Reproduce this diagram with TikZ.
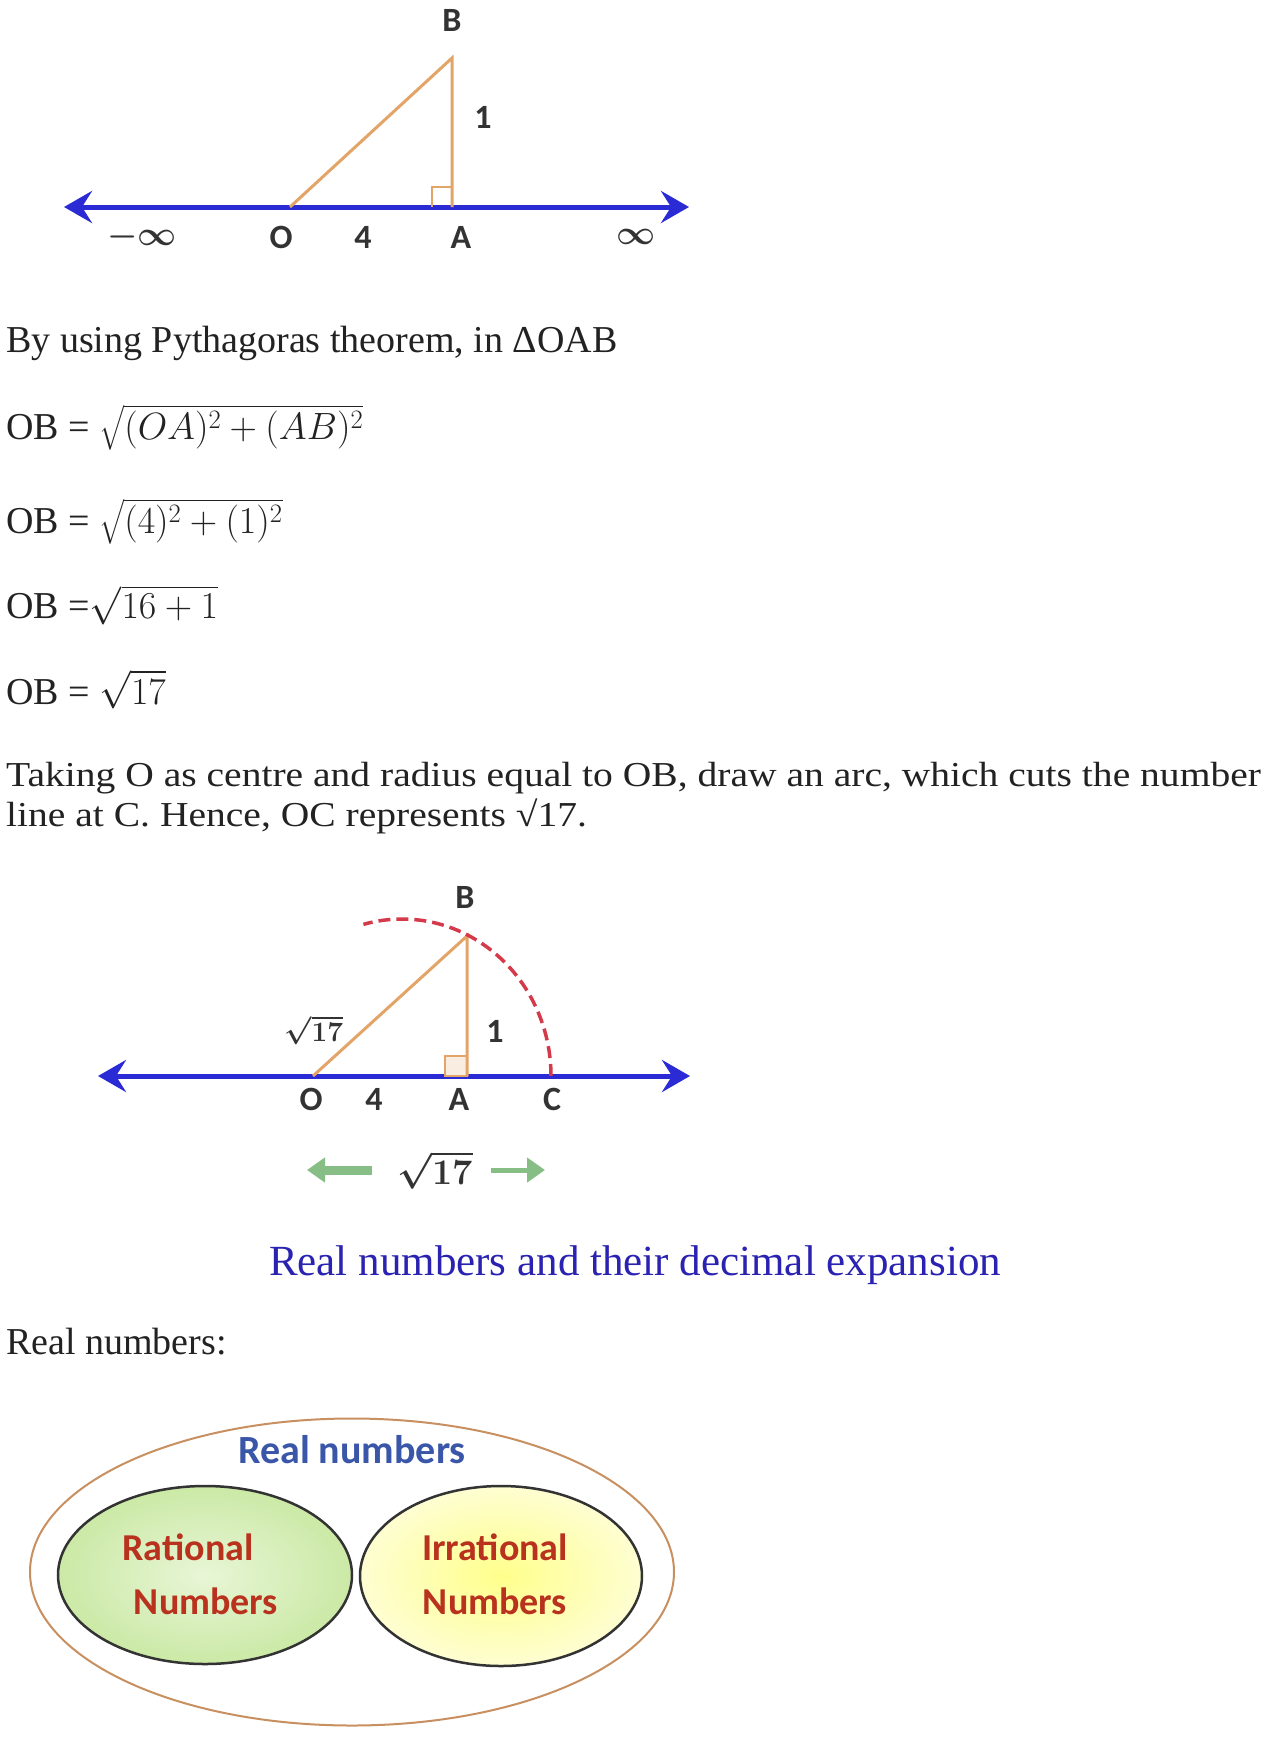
\RequirePackage{fix-cm}
\documentclass[tikz,border=0pt]{standalone}
\usepackage{amsmath}
\usepackage{fontspec}
\usepackage{xcolor}
\setmainfont{Liberation Serif}
\newfontfamily\labelfont{Carlito}
\usetikzlibrary{positioning,arrows.meta,shapes.geometric}

\definecolor{lineblue}{HTML}{2B2BD6}
\definecolor{triorange}{HTML}{E3A468}
\definecolor{arcred}{HTML}{D43A4A}
\definecolor{arrowgreen}{HTML}{86BE86}
\definecolor{headblue}{HTML}{2A22B0}
\definecolor{vennblue}{HTML}{3A56A8}
\definecolor{vennred}{HTML}{B8321E}
\definecolor{outerline}{HTML}{C89060}
\definecolor{inktext}{HTML}{222222}
\definecolor{ratgreen}{HTML}{CBE9A6}
\definecolor{ratlight}{HTML}{E8F6D6}
\definecolor{irryellow}{HTML}{FFFF8C}
\definecolor{irrlight}{HTML}{FEFED2}

\begin{document}
\begin{tikzpicture}[x=1pt,y=-1pt,
    num line/.style={lineblue,line width=5pt,{Stealth[length=28pt,width=32pt,inset=10pt]}-{Stealth[length=28pt,width=32pt,inset=10pt]}},
    tri side/.style={triorange,line width=3pt},
    pt label/.style={font=\labelfont\bfseries\fontsize{34}{40}\selectfont\boldmath,text=black!80},
    body text/.style={anchor=base west,inner sep=0pt,text=inktext,font=\fontsize{38}{46}\selectfont},
    green arrow/.style={arrowgreen,-{Triangle[length=18pt,width=24pt]}},
    venn text/.style={font=\labelfont\bfseries\fontsize{38}{46}\selectfont,text=vennred}]
    \useasboundingbox[fill=white] (0,0) rectangle (1270,1751);

    % first number line
    \coordinate (O1) at (290,207);
    \coordinate (A1) at (452,207);
    \coordinate (B1) at (452,58);
    \coordinate (L1) at (64,207);
    \coordinate (R1) at (689,207);
    \draw[num line] (L1) -- (R1);
    \draw[tri side] (O1) -- (B1) -- (A1);
    \draw[triorange,line width=2pt] ([xshift=-20pt]A1) -- ++(0,-20) -- ++(20,0);
    \node[pt label] (labB1) at (452,20) {B};
    \node[pt label] (lab11) at (483,117) {1};
    \node[pt label] (labminf) at (142,237) {$-\infty$};
    \node[pt label] (labO1) at (281,237) {O};
    \node[pt label] (lab41) at (363,237) {4};
    \node[pt label] (labA1) at (461,237) {A};
    \node[pt label] (labinf) at (636,237) {$\infty$};

    % working
    \node[body text] (pyth) at (6,352) {By using Pythagoras theorem, in ΔOAB};
    \node[body text] (eq1) at (6,439) {OB = $\sqrt{(OA)^2+(AB)^2}$};
    \node[body text] (eq2) at (6,533) {OB = $\sqrt{(4)^2+(1)^2}$};
    \node[body text] (eq3) at (6,618) {OB =$\sqrt{16+1}$};
    \node[body text] (eq4) at (6,704) {OB = $\sqrt{17}$};
    \node[body text,font=\fontsize{35}{42}\selectfont] (take1) at (6,786) {\scalebox{1.13}[1]{Taking O as centre and radius equal to OB, draw an arc, which cuts the number}};
    \node[body text,font=\fontsize{35}{42}\selectfont] (take2) at (6,826) {\scalebox{1.13}[1]{line at C. Hence, OC represents √17.}};

    % second number line
    \coordinate (O2) at (313,1076);
    \coordinate (A2) at (467,1076);
    \coordinate (B2) at (467,936);
    \coordinate (C2) at (551,1076);
    \coordinate (L2) at (98,1076);
    \coordinate (R2) at (690,1076);
    \draw[num line] (L2) -- (R2);
    \filldraw[fill=triorange!20,draw=triorange,line width=2pt] ([xshift=-22pt]A2) rectangle ++(22,-20);
    \draw[tri side] (O2) -- (B2) -- (A2);
    \draw[arcred,line width=3.5pt,dash pattern=on 12pt off 6pt] (C2) arc[start angle=0,end angle=-105,x radius=149,y radius=157];
    \node[pt label] (labB2) at (465,897) {B};
    \node[pt label] (lab12) at (495,1031) {1};
    \node[pt label,font=\fontsize{28}{34}\selectfont\boldmath] (labOB) at (314,1030) {$\sqrt{\mathbf{17}}$};
    \node[pt label] (labO2) at (311,1099) {O};
    \node[pt label] (lab42) at (374,1099) {4};
    \node[pt label] (labA2) at (459,1099) {A};
    \node[pt label] (labC2) at (552,1099) {C};
    \node[pt label,inner sep=0pt,font=\fontsize{36}{42}\selectfont\boldmath] (len) at (435,1170) {$\sqrt{\mathbf{17}}$};
    \coordinate (lenL) at (307,1170);
    \coordinate (lenR) at (545,1170);
    \draw[green arrow,line width=9pt] ([xshift=-25pt]len.west) -- (lenL);
    \draw[green arrow,line width=5pt] ([xshift=18pt]len.east) -- (lenR);

    % real numbers
    \node[anchor=base,inner sep=0pt,text=headblue,font=\fontsize{43}{50}\selectfont] (head) at (635,1275) {Real numbers and their decimal expansion};
    \node[body text] (realhd) at (6,1354) {Real numbers:};

    \node[ellipse,draw=outerline,line width=2pt,minimum width=644pt,minimum height=307pt,inner sep=0pt] (real) at (352,1572) {};
    \node[ellipse,draw=black!80,line width=2.5pt,inner color=ratlight,outer color=ratgreen,minimum width=294pt,minimum height=178pt,inner sep=0pt] (rational) at (205,1575) {};
    \node[ellipse,draw=black!80,line width=2.5pt,inner color=irryellow,outer color=irrlight,minimum width=282pt,minimum height=180pt,inner sep=0pt] (irrational) at (501,1576) {};
    \node[font=\labelfont\bfseries\fontsize{40}{48}\selectfont,text=vennblue] (realtxt) at (352,1450) {Real numbers};
    \node[venn text] (rat1) at (188,1547) {Rational};
    \node[venn text] (rat2) at (206,1601) {Numbers};
    \node[venn text] (irr1) at (495,1547) {Irrational};
    \node[venn text] (irr2) at (495,1601) {Numbers};
\end{tikzpicture}
\end{document}
